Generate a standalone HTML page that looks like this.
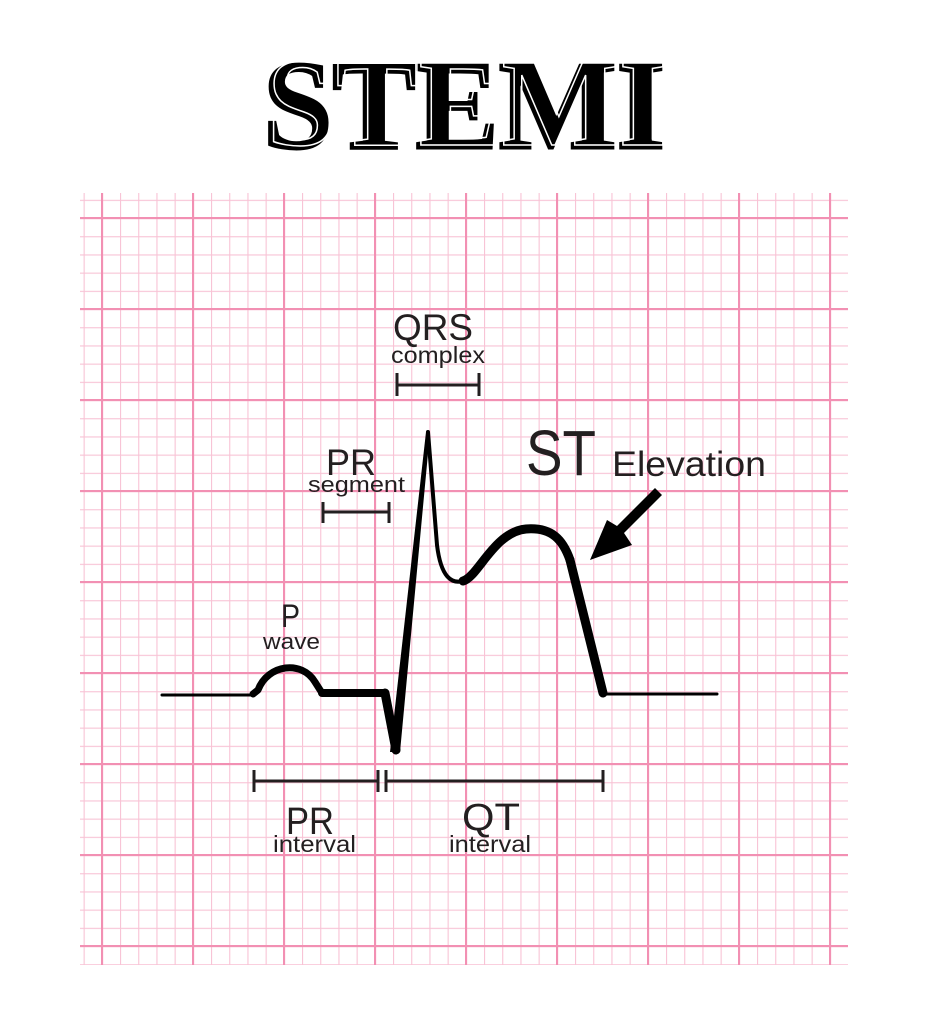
<!DOCTYPE html>
<html><head><meta charset="utf-8"><style>
html,body{margin:0;padding:0;background:#fff;}
svg{display:block;}
text{font-family:"Liberation Sans",sans-serif;fill:#231f20;}
</style></head><body>
<svg width="930" height="1024" viewBox="0 0 930 1024" xmlns="http://www.w3.org/2000/svg">
<defs>
<pattern id="mi" patternUnits="userSpaceOnUse" x="83.6" y="199.8" width="18.2" height="18.2">
<path d="M0.5,0 V18.2 M0,0.5 H18.2" stroke="#f8c3d5" stroke-width="1.2" fill="none"/>
</pattern>
<pattern id="ma" patternUnits="userSpaceOnUse" x="101" y="217" width="91" height="91">
<path d="M1,0 V91 M0,1 H91" stroke="#f290b3" stroke-width="2.2" fill="none"/>
</pattern>
</defs>
<rect x="0" y="0" width="930" height="1024" fill="#fff"/>
<rect x="80" y="193" width="768" height="772" fill="url(#mi)"/>
<rect x="80" y="193" width="768" height="772" fill="url(#ma)"/>

<!-- Title -->
<text x="263" y="148" textLength="402" lengthAdjust="spacingAndGlyphs" style="font-family:'Liberation Serif',serif;font-weight:bold;font-size:126px;fill:#000;stroke:#000;stroke-width:3;">STEMI</text>
<text x="267" y="145" textLength="400" lengthAdjust="spacingAndGlyphs" style="font-family:'Liberation Serif',serif;font-weight:bold;font-size:126px;fill:none;stroke:#fff;stroke-width:1.5;">STEMI</text>

<!-- waveform -->
<g fill="none" stroke="#000" stroke-linecap="round" stroke-linejoin="round">
<path d="M162,695 L253,695" stroke-width="3"/>
<path d="M253,694 L258,690 C268,664 302,660 315,682 L322,693" stroke-width="7"/>
<path d="M322,693 L385,693" stroke-width="8"/>
<path d="M385,693 L396,750" stroke-width="9"/>
<path d="M428,432 L437,545 C441,578 452,584 463,581" stroke-width="4"/>
<path d="M463,581 C478,577 494,532 526,529 C552,527 563,540 570,560" stroke-width="9"/>
<path d="M570,560 L603,693" stroke-width="9"/>
<path d="M603,694 L717,694" stroke-width="3"/>
</g>
<polygon points="390,752 400,752 430,432 426,432" fill="#000"/>

<!-- arrow -->
<polygon points="655,488 662,495 624,533 632,545 590,560 607,520 617,526" fill="#000"/>

<!-- bars -->
<g stroke="#231f20" stroke-width="3" fill="none">
<path d="M397,385 H479 M397,373 V396 M479,373 V396"/>
<path d="M323,512 H389 M323,502 V523 M389,502 V523"/>
<path d="M254,781 H378 M254,770 V792 M378,770 V792 M386,770 V792 M386,781 H603 M603,770 V792"/>
</g>

<!-- labels -->
<text x="393" y="340" style="font-size:37px;" textLength="80" lengthAdjust="spacingAndGlyphs">QRS</text>
<text x="391" y="363" style="font-size:23px;" textLength="94" lengthAdjust="spacingAndGlyphs">complex</text>
<text x="526" y="475" style="font-size:64px;" textLength="70" lengthAdjust="spacingAndGlyphs">ST</text>
<text x="612" y="476" style="font-size:35px;" textLength="154" lengthAdjust="spacingAndGlyphs">Elevation</text>
<text x="326" y="475" style="font-size:37px;" textLength="50" lengthAdjust="spacingAndGlyphs">PR</text>
<text x="308" y="492" style="font-size:22px;" textLength="97" lengthAdjust="spacingAndGlyphs">segment</text>
<text x="281" y="627" style="font-size:32px;" textLength="19" lengthAdjust="spacingAndGlyphs">P</text>
<text x="263" y="649" style="font-size:22px;" textLength="57" lengthAdjust="spacingAndGlyphs">wave</text>
<text x="286" y="834" style="font-size:38px;" textLength="48" lengthAdjust="spacingAndGlyphs">PR</text>
<text x="273" y="852" style="font-size:23px;" textLength="83" lengthAdjust="spacingAndGlyphs">interval</text>
<text x="462" y="830" style="font-size:38px;" textLength="58" lengthAdjust="spacingAndGlyphs">QT</text>
<text x="449" y="852" style="font-size:23px;" textLength="82" lengthAdjust="spacingAndGlyphs">interval</text>
</svg>
</body></html>
